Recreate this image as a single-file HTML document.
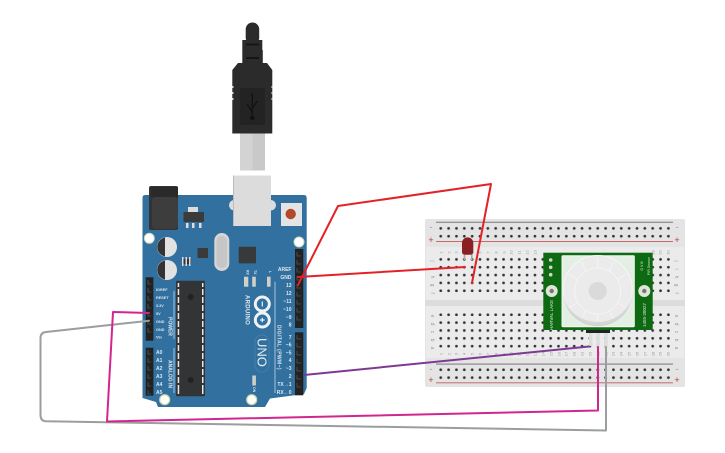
<!DOCTYPE html>
<html><head><meta charset="utf-8"><style>
html,body{margin:0;padding:0;background:#fff}
svg{display:block}
text{font-family:"Liberation Sans",sans-serif}
.w{fill:#dfe7ee;font-size:5px;font-weight:bold}
.n{fill:#999;font-size:5px;font-family:"Liberation Sans",sans-serif}
</style></head><body>
<svg width="725" height="453" viewBox="0 0 725 453" xmlns="http://www.w3.org/2000/svg">
<defs>
<pattern id="h1" x="437.8" y="224.2" width="7.85" height="7.85" patternUnits="userSpaceOnUse"><rect x="1.6" y="2.8" width="2.7" height="2.7" rx="1.3" fill="#333"/></pattern>
<pattern id="h2" x="437.8" y="255.2" width="7.85" height="7.85" patternUnits="userSpaceOnUse"><rect x="1.6" y="2.8" width="2.7" height="2.7" rx="1.3" fill="#333"/></pattern>
<pattern id="h3" x="437.8" y="310.6" width="7.85" height="7.85" patternUnits="userSpaceOnUse"><rect x="1.6" y="2.8" width="2.7" height="2.7" rx="1.3" fill="#333"/></pattern>
<pattern id="h4" x="437.8" y="365.6" width="7.85" height="7.85" patternUnits="userSpaceOnUse"><rect x="1.6" y="2.8" width="2.7" height="2.7" rx="1.3" fill="#333"/></pattern>
</defs>
<!-- USB cable -->
<rect x="245.7" y="22.5" width="13.5" height="22" rx="6.7" fill="#2b2b2b"/>
<rect x="242.3" y="40" width="20" height="10" fill="#2b2b2b"/>
<rect x="242.3" y="50" width="20.5" height="14" fill="#2b2b2b"/>
<rect x="246" y="43.5" width="13" height="2" fill="#151515"/><rect x="246" y="57" width="13" height="2" fill="#151515"/>
<polygon points="238,63 267,63 272.3,70 272.3,133.5 232.3,133.5 232.3,70" fill="#2b2b2b"/>
<rect x="240" y="88" width="25" height="37" fill="#232323"/>
<path d="M252.3 93V118M252.3 112L247 104M252.3 108L257.5 101" stroke="#111" stroke-width="1.2" fill="none"/><circle cx="252.3" cy="118" r="2.2" fill="#111"/>
<rect x="232" y="86" width="1.5" height="2" fill="#ddd"/><rect x="232" y="92" width="1.5" height="2" fill="#ddd"/><rect x="232" y="98" width="1.5" height="2" fill="#ddd"/><rect x="271.5" y="86" width="1.5" height="2" fill="#ddd"/><rect x="271.5" y="92" width="1.5" height="2" fill="#ddd"/><rect x="271.5" y="98" width="1.5" height="2" fill="#ddd"/>
<rect x="240" y="133.5" width="13" height="37" fill="#d3d3d3"/><rect x="252.5" y="133.5" width="12.5" height="37" fill="#c9c9c9"/>
<!-- Arduino board -->
<path d="M145 195H304Q306.7 195 306.7 198V388L304 394L270 398.5L265 407H158L156 402L142.5 398V198Q142.5 195 145 195Z" fill="#31709f"/>
<!-- DC jack -->
<rect x="149" y="186" width="29" height="44" rx="2" fill="#333"/>
<rect x="151" y="187" width="27" height="10" fill="#2a2a2a"/>
<rect x="152" y="197" width="26" height="32" rx="4" fill="#3d3d3d"/>
<!-- USB jack -->
<rect x="229" y="200" width="47" height="10.5" rx="5.2" fill="#dcdcdc"/>
<rect x="233" y="175.5" width="38" height="50.5" fill="#dcdcdc"/>
<rect x="233" y="175.5" width="1" height="50" fill="#bbb"/>
<!-- Regulator -->
<rect x="188" y="207" width="10" height="5" fill="#ddd"/>
<rect x="183.5" y="212" width="20.5" height="10" fill="#3b3b3b"/>
<rect x="186" y="223" width="2.5" height="5" fill="#ddd"/><rect x="192" y="223" width="2.5" height="5" fill="#ddd"/><rect x="199" y="223" width="2.5" height="5" fill="#ddd"/>
<!-- Reset -->
<rect x="281" y="203" width="21" height="23" fill="#e4e4e4"/>
<circle cx="290.7" cy="214" r="5.2" fill="#b5482a"/>
<!-- Mount holes -->
<circle cx="149.3" cy="238.3" r="5" fill="#fff" stroke="#cfd7c0" stroke-width="1"/>
<circle cx="299" cy="242" r="5" fill="#fff" stroke="#cfd7c0" stroke-width="1"/>
<circle cx="164.7" cy="399.7" r="5" fill="#fff" stroke="#cfd7a0" stroke-width="1.2"/>
<circle cx="251.7" cy="399.7" r="5" fill="#fff" stroke="#cfd7a0" stroke-width="1.2"/>
<!-- Caps -->
<circle cx="167" cy="247" r="10" fill="#e2e2e2"/><path d="M165 237.5A9.7 9.7 0 0 0 165 256.5Z" fill="#333"/>
<circle cx="167" cy="270" r="10" fill="#e2e2e2"/><path d="M165 260.5A9.7 9.7 0 0 0 165 279.5Z" fill="#333"/>
<!-- small chips -->
<rect x="197.5" y="248" width="10.5" height="10" rx="1" fill="#3a3a3a"/>
<rect x="182" y="259" width="9" height="5" fill="#333"/><rect x="182" y="257" width="1.5" height="9" fill="#ddd"/><rect x="185.5" y="257" width="1.5" height="9" fill="#ddd"/><rect x="189" y="257" width="1.5" height="9" fill="#ddd"/>
<!-- Crystal -->
<rect x="214.3" y="233" width="15" height="38" rx="7.5" fill="#d6d6d6"/>
<rect x="216.5" y="236" width="10.5" height="32" rx="5" fill="#c6c6c6"/>
<rect x="238.7" y="246.7" width="17.3" height="16.7" rx="1" fill="#38393b"/>
<!-- LEDs -->
<rect x="244" y="276.7" width="4.3" height="10" fill="#d0d0c8"/>
<rect x="252.2" y="276.7" width="3.6" height="10" fill="#d0d0c8"/>
<rect x="267" y="276.7" width="3.6" height="10" fill="#d0d0c8"/>
<rect x="252.3" y="375.5" width="3.6" height="10" fill="#d0d0c8"/>
<text class="w" transform="translate(246.5,270) rotate(90)" style="font-size:3.5px">RX</text>
<text class="w" transform="translate(254,270) rotate(90)" style="font-size:3.5px">TX</text>
<text class="w" transform="translate(268.8,271) rotate(90)" style="font-size:3.5px">L</text>
<text class="w" transform="translate(253,387) rotate(90)" style="font-size:3.5px">ON</text>
<!-- ATmega -->
<rect x="176" y="280.7" width="29" height="115.5" rx="1" fill="#333436"/>
<rect x="177.7" y="283" width="1.5" height="111" fill="#e8e8e8"/><rect x="202" y="283" width="1.5" height="111" fill="#e8e8e8"/>
<g fill="#333436"><rect x="177" y="287" width="3" height="2"/><rect x="177" y="295" width="3" height="2"/><rect x="177" y="303" width="3" height="2"/><rect x="177" y="311" width="3" height="2"/><rect x="177" y="319" width="3" height="2"/><rect x="177" y="327" width="3" height="2"/><rect x="177" y="335" width="3" height="2"/><rect x="177" y="343" width="3" height="2"/><rect x="177" y="351" width="3" height="2"/><rect x="177" y="359" width="3" height="2"/><rect x="177" y="367" width="3" height="2"/><rect x="177" y="375" width="3" height="2"/><rect x="177" y="383" width="3" height="2"/>
<rect x="201" y="287" width="3" height="2"/><rect x="201" y="295" width="3" height="2"/><rect x="201" y="303" width="3" height="2"/><rect x="201" y="311" width="3" height="2"/><rect x="201" y="319" width="3" height="2"/><rect x="201" y="327" width="3" height="2"/><rect x="201" y="335" width="3" height="2"/><rect x="201" y="343" width="3" height="2"/><rect x="201" y="351" width="3" height="2"/><rect x="201" y="359" width="3" height="2"/><rect x="201" y="367" width="3" height="2"/><rect x="201" y="375" width="3" height="2"/><rect x="201" y="383" width="3" height="2"/></g>
<circle cx="190.7" cy="297" r="3" fill="#222"/><circle cx="190.7" cy="380" r="3" fill="#222"/>
<!-- Headers -->
<rect x="295" y="249" width="8.3" height="79" fill="#222"/>
<rect x="295" y="332.3" width="8.3" height="63" fill="#222"/>
<rect x="145.7" y="277.3" width="7.7" height="63.4" fill="#222"/>
<rect x="145.7" y="347.7" width="7.7" height="48" fill="#222"/>
<g stroke="#555" stroke-width="0.8" fill="none">
<path d="M297 252V256H301M297 260V264H301M297 268V272H301M297 276V280H301M297 284V288H301M297 292V296H301M297 300V304H301M297 308V312H301M297 316V320H301"/>
<path d="M297 335V339H301M297 343V347H301M297 351V355H301M297 359V363H301M297 367V371H301M297 375V379H301M297 383V387H301"/>
<path d="M148 280V284H151M148 288V292H151M148 296V300H151M148 304V308H151M148 312V316H151M148 320V324H151M148 328V332H151"/>
<path d="M148 350V354H151M148 358V362H151M148 366V370H151M148 374V378H151M148 382V386H151M148 390V394H151"/>
</g>
<!-- Label lines -->
<path d="M275 281.7V393M174 291V339M174 348V393" stroke="#a9c3d8" stroke-width="1" fill="none"/>
<!-- Left labels -->
<text class="w" x="156" y="291" style="font-size:3.8px">IOREF</text>
<text class="w" x="156" y="299" style="font-size:3.8px">RESET</text>
<text class="w" x="156" y="307" style="font-size:3.8px">3.3V</text>
<text class="w" x="156" y="315" style="font-size:3.8px">5V</text>
<text class="w" x="156" y="323" style="font-size:3.8px">GND</text>
<text class="w" x="156" y="331" style="font-size:3.8px">GND</text>
<text class="w" x="156" y="338.5" style="font-size:3.8px">Vin</text>
<text class="w" x="156" y="354">A0</text><text class="w" x="156" y="362">A1</text><text class="w" x="156" y="370">A2</text><text class="w" x="156" y="378">A3</text><text class="w" x="156" y="386">A4</text><text class="w" x="156" y="394">A5</text>
<text class="w" transform="translate(168.5,317) rotate(90)" style="font-size:5px">POWER</text>
<text class="w" transform="translate(168.5,360) rotate(90)" style="font-size:5px">ANALOG IN</text>
<!-- Right labels -->
<g text-anchor="end">
<text class="w" x="291.5" y="271">AREF</text><text class="w" x="291.5" y="279">GND</text><text class="w" x="291.5" y="287">13</text><text class="w" x="291.5" y="295">12</text><text class="w" x="291.5" y="303">~11</text><text class="w" x="291.5" y="311">~10</text><text class="w" x="291.5" y="319">~9</text><text class="w" x="291.5" y="326.5">8</text><text class="w" x="291.5" y="339">7</text><text class="w" x="291.5" y="346.5">~6</text><text class="w" x="291.5" y="354.5">~5</text><text class="w" x="291.5" y="362">4</text><text class="w" x="291.5" y="370">~3</text><text class="w" x="291.5" y="378">2</text><text class="w" x="291.5" y="386">TX→1</text><text class="w" x="291.5" y="394">RX←0</text>
</g>
<text class="w" transform="translate(277.5,325) rotate(90)" style="font-size:5px;letter-spacing:.4px">DIGITAL (PWM~)</text>
<text class="w" transform="translate(245.5,295) rotate(90)" style="font-size:6px;letter-spacing:.3px">ARDUINO</text>
<!-- Logo -->
<circle cx="262.3" cy="304" r="7" fill="none" stroke="#eef2f5" stroke-width="3"/>
<circle cx="262.3" cy="320" r="7" fill="none" stroke="#eef2f5" stroke-width="3"/>
<path d="M262.3 301.5V306.5M260 320H264.6M262.3 317.7V322.3" stroke="#eef2f5" stroke-width="1.2"/>
<rect x="255" y="335" width="14" height="37" rx="7" fill="none" stroke="#4b82ad" stroke-width="0.8"/>
<text transform="translate(257.5,338) rotate(90)" style="font-size:13px;fill:#e6edf2">UNO</text>

<!-- Breadboard -->
<rect x="425" y="219" width="260" height="168" rx="2" fill="#e4e4e4"/>
<rect x="426" y="247" width="258" height="53" fill="#ebebeb"/>
<rect x="426" y="306" width="258" height="52" fill="#ebebeb"/>
<rect x="425" y="300" width="260" height="6" fill="#dcdcdc"/>
<rect x="436" y="221.7" width="237" height="1.2" fill="#8a8a8a"/>
<rect x="436" y="241" width="237" height="1" fill="#c96a6a"/>
<rect x="436" y="363.5" width="237" height="1.2" fill="#8a8a8a"/>
<rect x="436" y="382.3" width="237" height="1" fill="#c96a6a"/>
<g fill="#999" font-size="9" text-anchor="middle">
<text x="431" y="230">-</text><text x="677" y="230">-</text><text x="431" y="372">-</text><text x="677" y="372">-</text></g>
<g fill="#c0392b" font-size="9" text-anchor="middle">
<text x="431" y="243">+</text><text x="677" y="243">+</text><text x="431" y="383">+</text><text x="677" y="383">+</text></g>
<rect x="437.8" y="224.2" width="235" height="15.7" fill="url(#h1)"/>
<rect x="437.8" y="255.2" width="235" height="39.25" fill="url(#h2)"/>
<rect x="437.8" y="310.6" width="235" height="39.25" fill="url(#h3)"/>
<rect x="437.8" y="365.6" width="235" height="15.7" fill="url(#h4)"/>
<!-- letters -->
<g class="n" text-anchor="middle">
<text transform="translate(431,261) rotate(90)">j</text><text transform="translate(431,269) rotate(90)">i</text><text transform="translate(431,277) rotate(90)">h</text><text transform="translate(431,285) rotate(90)">g</text><text transform="translate(431,293) rotate(90)">f</text>
<text transform="translate(431,316) rotate(90)">e</text><text transform="translate(431,324) rotate(90)">d</text><text transform="translate(431,332) rotate(90)">c</text><text transform="translate(431,340) rotate(90)">b</text><text transform="translate(431,348) rotate(90)">a</text>
<text transform="translate(675,261) rotate(90)">j</text><text transform="translate(675,269) rotate(90)">i</text><text transform="translate(675,277) rotate(90)">h</text><text transform="translate(675,285) rotate(90)">g</text><text transform="translate(675,293) rotate(90)">f</text>
<text transform="translate(675,316) rotate(90)">e</text><text transform="translate(675,324) rotate(90)">d</text><text transform="translate(675,332) rotate(90)">c</text><text transform="translate(675,340) rotate(90)">b</text><text transform="translate(675,348) rotate(90)">a</text>
</g>
<!-- numbers -->
<g class="n" style="font-size:4px" text-anchor="middle">
<text transform="translate(442.5,252.5) rotate(-90)">1</text><text transform="translate(450.5,252.5) rotate(-90)">2</text><text transform="translate(457.5,252.5) rotate(-90)">3</text><text transform="translate(465.5,252.5) rotate(-90)">4</text><text transform="translate(473.5,252.5) rotate(-90)">5</text><text transform="translate(481.5,252.5) rotate(-90)">6</text><text transform="translate(489.5,252.5) rotate(-90)">7</text><text transform="translate(497.5,252.5) rotate(-90)">8</text><text transform="translate(505.5,252.5) rotate(-90)">9</text><text transform="translate(512.5,252.5) rotate(-90)">10</text><text transform="translate(520.5,252.5) rotate(-90)">11</text><text transform="translate(528.5,252.5) rotate(-90)">12</text><text transform="translate(536.5,252.5) rotate(-90)">13</text>
<text transform="translate(442.5,354) rotate(-90)">1</text><text transform="translate(450.5,354) rotate(-90)">2</text><text transform="translate(457.5,354) rotate(-90)">3</text><text transform="translate(465.5,354) rotate(-90)">4</text><text transform="translate(473.5,354) rotate(-90)">5</text><text transform="translate(481.5,354) rotate(-90)">6</text><text transform="translate(489.5,354) rotate(-90)">7</text><text transform="translate(497.5,354) rotate(-90)">8</text><text transform="translate(505.5,354) rotate(-90)">9</text><text transform="translate(512.5,354) rotate(-90)">10</text><text transform="translate(520.5,354) rotate(-90)">11</text><text transform="translate(528.5,354) rotate(-90)">12</text><text transform="translate(536.5,354) rotate(-90)">13</text><text transform="translate(544.5,354) rotate(-90)">14</text><text transform="translate(552.5,354) rotate(-90)">15</text><text transform="translate(560.5,354) rotate(-90)">16</text><text transform="translate(567.5,354) rotate(-90)">17</text><text transform="translate(575.5,354) rotate(-90)">18</text><text transform="translate(583.5,354) rotate(-90)">19</text><text transform="translate(591.5,354) rotate(-90)">20</text><text transform="translate(599.5,354) rotate(-90)">21</text><text transform="translate(607.5,354) rotate(-90)">22</text><text transform="translate(614.5,354) rotate(-90)">23</text><text transform="translate(622.5,354) rotate(-90)">24</text><text transform="translate(630.5,354) rotate(-90)">25</text><text transform="translate(638.5,354) rotate(-90)">26</text><text transform="translate(646.5,354) rotate(-90)">27</text><text transform="translate(654.5,354) rotate(-90)">28</text><text transform="translate(661.5,354) rotate(-90)">29</text><text transform="translate(669.5,354) rotate(-90)">30</text>
<text transform="translate(654.5,252.5) rotate(-90)">28</text><text transform="translate(661.5,252.5) rotate(-90)">29</text><text transform="translate(669.5,252.5) rotate(-90)">30</text>
</g>
<!-- LED -->
<rect x="463.7" y="253" width="1.6" height="7" fill="#aaa"/><rect x="471" y="253" width="1.6" height="7" fill="#aaa"/>
<path d="M462 252V243A5.6 5.6 0 0 1 473.3 243V252Q473.3 254.7 470 254.7H465Q462 254.7 462 252Z" fill="#8a2023"/>
<!-- PIR -->
<rect x="543.3" y="252.7" width="109.4" height="77.3" fill="#0d6a12"/>
<rect x="562" y="255.7" width="72.3" height="71" rx="1" fill="#e3efe2" stroke="#f4f7f3" stroke-width="1"/>
<circle cx="597.7" cy="291" r="35" fill="#c4cac3"/>
<circle cx="597.7" cy="290" r="34.5" fill="#ebebeb" stroke="#f7f7f7" stroke-width="1"/>
<g stroke="#f8f8f8" stroke-width="0.7" fill="none">
<circle cx="597.7" cy="291" r="23"/>
<path d="M597.7 268V258M597.7 314V323M577.7 279.5L569 274M617.7 279.5L626 274M577.7 302.5L569 308M617.7 302.5L626 308M586 271L581 262M609.4 271L614 262M586 311L581 320M609.4 311L614 320"/>
</g>
<path d="M563.3 291A34.4 34.4 0 0 0 632.1 291A34.4 31 0 0 1 563.3 291Z" fill="#d6d6d6"/>
<circle cx="597.7" cy="291" r="9" fill="#dadada"/>
<circle cx="551.7" cy="291" r="6" fill="#dfe5d9"/><circle cx="551.7" cy="291" r="2.2" fill="#777"/>
<circle cx="644.3" cy="291" r="6" fill="#dfe5d9"/><circle cx="644.3" cy="291" r="2.2" fill="#777"/>
<circle cx="550.7" cy="260" r="1.8" fill="#cfd8c8"/><circle cx="550.7" cy="267.3" r="1.8" fill="#cfd8c8"/><circle cx="550.7" cy="274.7" r="1.8" fill="#cfd8c8"/>
<text transform="translate(553,315) rotate(-90)" style="font-size:4.5px;fill:#dce8dc" text-anchor="middle">HARVAL LAKE</text>
<text transform="translate(646,315) rotate(-90)" style="font-size:4.5px;fill:#dce8dc" text-anchor="middle">1455-28027</text>
<text transform="translate(643,266) rotate(-90)" style="font-size:3.5px;fill:#dce8dc" text-anchor="middle">G V B</text>
<text transform="translate(650,266) rotate(-90)" style="font-size:3.5px;fill:#dce8dc" text-anchor="middle">PIR Sensor</text>
<rect x="586" y="330" width="24" height="3" fill="#222"/>
<rect x="589" y="333" width="3.4" height="13" fill="#dcdcdc"/><rect x="596.3" y="333" width="3.4" height="14" fill="#dcdcdc"/><rect x="604.3" y="333" width="3.4" height="14" fill="#dcdcdc"/>

<!-- Wires -->
<g fill="none" stroke-linejoin="round" stroke-linecap="round">
<polyline points="298,285 338,206 491,184 472,283" stroke="#e32227" stroke-width="2"/>
<polyline points="298,277 465,267" stroke="#e32227" stroke-width="2"/>
<polyline points="304,375 589,346.5" stroke="#7c3a93" stroke-width="2"/>
<path d="M149,320.7L46,332Q40.5,332.5 40.5,338V415Q40.5,421 46,421.3L606,430.5V347" stroke="#9b9e9e" stroke-width="2"/>
<polyline points="149,313 113,312 107,421.5 598,410.5 598,347" stroke="#d1268f" stroke-width="2"/>
</g>
</svg>
</body></html>
